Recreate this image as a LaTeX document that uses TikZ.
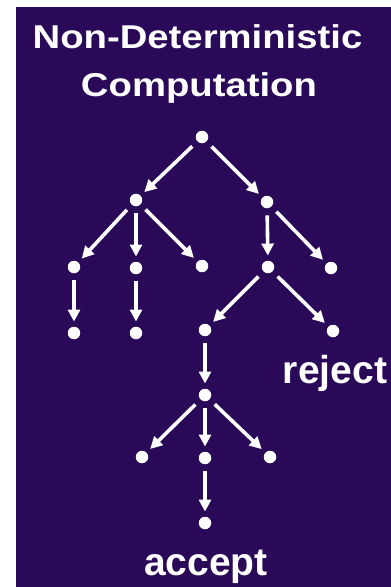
\documentclass[tikz,border=0pt]{standalone}
\usepackage{fontspec}
\setmainfont{Liberation Sans}
\usetikzlibrary{arrows.meta}
\definecolor{slidebg}{RGB}{41,9,88}

\begin{document}
\begin{tikzpicture}[x=1pt,y=-1pt,
dot/.style={circle,fill=white,inner sep=0pt,minimum size=12.5pt},
flow/.style={-{Triangle[length=12pt,width=12pt]},line width=3.6pt,white,shorten <=7pt,shorten >=5pt},
headline/.style={text=white,font=\bfseries\fontsize{33}{38}\selectfont,anchor=base,inner sep=0pt},
result/.style={text=white,font=\bfseries\fontsize{39}{44}\selectfont,anchor=base,inner sep=0pt}]
\useasboundingbox (0,0) rectangle (391,587);
\fill[slidebg] (16,7) rectangle (391,587);
\node[headline] (t1) at (197.5,48) {\scalebox{1.16}[1]{Non-Deterministic}};
\node[headline] (t2) at (199,96) {\scalebox{1.16}[1]{Computation}};
% computation tree
\node[dot] (root) at (202,137) {};
\node[dot] (a) at (136,200) {};
\node[dot] (b) at (267,202) {};
\node[dot] (a1) at (74,267) {};
\node[dot] (a2) at (136,268) {};
\node[dot] (a3) at (202,266) {};
\node[dot] (a11) at (74,333) {};
\node[dot] (a21) at (136,333) {};
\node[dot] (b1) at (268,267) {};
\node[dot] (b2) at (331,268) {};
\node[dot] (b11) at (205,330) {};
\node[dot] (b12) at (333,331) {};
\node[dot] (c) at (205,395) {};
\node[dot] (c1) at (142,457) {};
\node[dot] (c2) at (205,458) {};
\node[dot] (c3) at (270,457) {};
\node[dot] (acc) at (205,523) {};
\node[result] (rej) at (335,383) {reject};
\node[result] (acctxt) at (206,575) {accept};
\draw[flow] (root)--(a);
\draw[flow] (root)--(b);
\foreach \x in {a1,a2,a3} \draw[flow] (a)--(\x);
\draw[flow] (a1)--(a11);
\draw[flow] (a2)--(a21);
\draw[flow] (b)--(b1);
\draw[flow] (b)--(b2);
\draw[flow] (b1)--(b11);
\draw[flow] (b1)--(b12);
\draw[flow] (b11)--(c);
\foreach \x in {c1,c2,c3} \draw[flow] (c)--(\x);
\draw[flow] (c2)--(acc);
\end{tikzpicture}
\end{document}
